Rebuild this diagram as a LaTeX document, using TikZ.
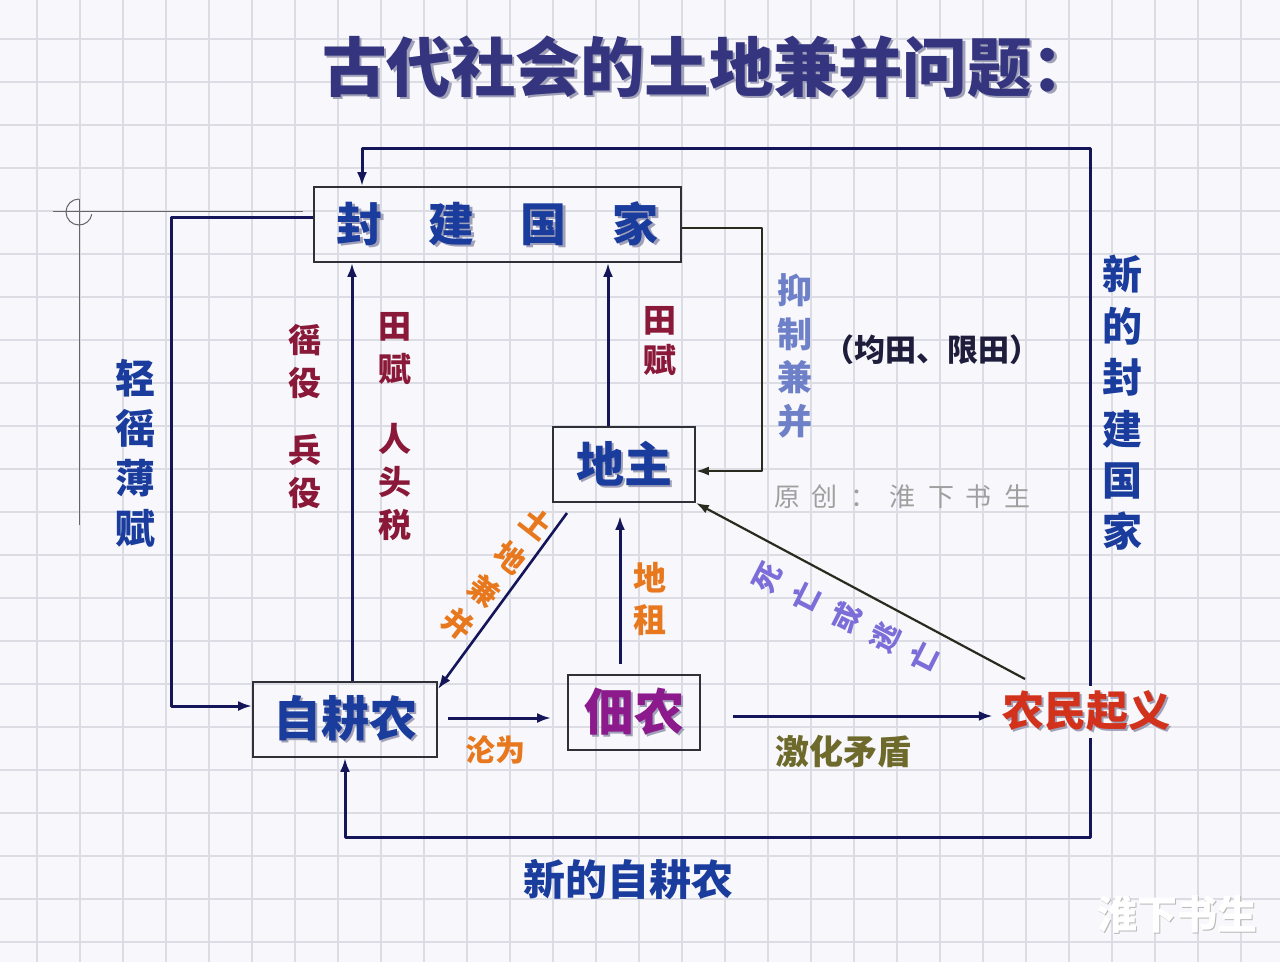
\documentclass[tikz,border=0pt]{standalone}
\usepackage{fontspec}
\newfontfamily\hei{Noto Sans CJK SC}
\usetikzlibrary{arrows.meta}
\definecolor{bg}{HTML}{F8F8FC}
\definecolor{gridc}{HTML}{DCDCE4}
\definecolor{navy}{HTML}{15155A}
\definecolor{titlec}{HTML}{35357F}
\definecolor{boxblue}{HTML}{1A3C9C}
\definecolor{wine}{HTML}{8A1838}
\definecolor{orangec}{HTML}{E8781E}
\definecolor{purplec}{HTML}{8C1A8C}
\definecolor{redc}{HTML}{D2321C}
\definecolor{lav}{HTML}{7C6ED8}
\definecolor{lightblue}{HTML}{6E80C8}
\definecolor{olive}{HTML}{6E6A2C}
\definecolor{shadowc}{HTML}{A0A0B8}
\definecolor{boxline}{HTML}{303038}
\definecolor{darkline}{HTML}{2A2A1E}
\definecolor{darktext}{HTML}{1E1E3C}
\newcommand{\shtext}[2]{\makebox[0pt][l]{\color{shadowc}\kern2.5pt\raisebox{-2.5pt}{#2}}{\color{#1}#2}}
\newcommand{\fs}[2]{\fontsize{#1}{#2}\selectfont}
\tikzset{
  box/.style={draw=boxline, line width=1.8pt, inner sep=0pt},
  conn/.style={draw=navy, line width=3pt, line join=round, -{Latex[length=14pt,width=10pt]}},
  thinconn/.style={draw=darkline, line width=2.2pt, line join=round, -{Latex[length=13pt,width=9pt]}},
  lbl/.style={inner sep=0pt, align=center},
}
\begin{document}
\begin{tikzpicture}[x=1pt,y=-1pt]
\fill[bg] (0,0) rectangle (1280,962);
\useasboundingbox (0,0) rectangle (1280,962);
% grid
\foreach \k in {0,...,29} {\draw[gridc, line width=1.1pt] ({37+43*\k},0) -- ({37+43*\k},962);}
\foreach \k in {0,...,22} {\draw[gridc, line width=1.1pt] (0,{39+43*\k}) -- (1280,{39+43*\k});}
% crosshair mark
\draw[gray!80!black, line width=1pt] (53,211) -- (303,211);
\draw[gray!80!black, line width=1pt] (79,199) -- (79,525);
\draw[gray!80!black, line width=1pt] (79,199) arc[start angle=270, end angle=10, radius=13];

% title
\node[lbl, font=\hei\bfseries\fs{64.5}{70}] (title) at (709,68) {\shtext{titlec}{古代社会的土地兼并问题：}};

% boxes
\node[box, minimum width=367pt, minimum height=75pt, font=\hei\bfseries\fs{46}{50}] (feng) at (497.5,224.5)
  {\shtext{boxblue}{封　建　国　家}};
\node[box, minimum width=142pt, minimum height=75pt, font=\hei\bfseries\fs{48}{52}] (dizhu) at (624,464.5)
  {\shtext{boxblue}{地主}};
\node[box, minimum width=184pt, minimum height=75pt, font=\hei\bfseries\fs{48}{52}] (zigeng) at (345,719.5)
  {\shtext{boxblue}{自耕农}};
\node[box, minimum width=132pt, minimum height=75pt, font=\hei\bfseries\fs{50}{54}] (diannong) at (634,712.5)
  {\shtext{purplec}{佃农}};
\node[inner sep=0pt, minimum height=52pt, font=\hei\bfseries\fs{42}{46}] (qiyi) at (1086,712)
  {\shtext{redc}{农民起义}};

% connectors
\coordinate (c1) at (1090,148); \coordinate (c2) at (362,148);
\draw[conn] (qiyi.north -| c1) -- (c1) -- (c2) -- (c2 |- feng.north);
\coordinate (c3) at (1090,837); \coordinate (c4) at (345,837);
\draw[conn] (qiyi.south -| c3) -- (c3) -- (c4) -- (c4 |- zigeng.south);
\coordinate (l1) at (171,217); \coordinate (l2) at (171,706);
\draw[conn] (feng.west |- l1) -- (l1) -- (l2) -- (l2 -| zigeng.west);
\coordinate (a1) at (352,0);
\draw[conn] (zigeng.north -| a1) -- (feng.south -| a1);
\coordinate (a2) at (608,0);
\draw[conn] (dizhu.north -| a2) -- (feng.south -| a2);
\coordinate (b1) at (762,228); \coordinate (b2) at (762,471);
\draw[thinconn] (feng.east |- b1) -- (b1) -- (b2) -- (b2 -| dizhu.east);
\coordinate (t1) at (567,513);
\draw[conn, line width=2.6pt] (t1) -- ([yshift=-8pt]zigeng.north east);
\coordinate (a3) at (620,0);
\draw[conn, shorten <=10pt, shorten >=13pt] (diannong.north -| a3) -- (dizhu.south -| a3);
\coordinate (d1) at (1025,679);
\draw[thinconn] (d1) -- (dizhu.south east);
\coordinate (e1) at (0,718);
\draw[conn, shorten <=10pt, shorten >=16pt] (zigeng.east |- e1) -- (diannong.west |- e1);
\coordinate (e2) at (0,716);
\draw[conn, shorten <=32pt, shorten >=9pt] (diannong.east |- e2) -- (qiyi.west |- e2);

% labels
\node[lbl, text=boxblue, font=\hei\bfseries\fs{40}{50}] (qingyao) at (135,453) {轻\\徭\\薄\\赋};
\node[lbl, text=wine, font=\hei\bfseries\fs{33}{43}] (yaoyi) at (305,416) {徭\\役\\[24pt]兵\\役};
\node[lbl, text=wine, font=\hei\bfseries\fs{33}{43}] (tianfu1) at (395,427) {田\\赋\\[27pt]人\\头\\税};
\node[lbl, text=wine, font=\hei\bfseries\fs{33}{40}] (tianfu2) at (660,341) {田\\赋};
\node[lbl, text=orangec, font=\hei\bfseries\fs{33}{42}] (dizu) at (650,599) {地\\租};
\node[lbl, text=lightblue, font=\hei\bfseries\fs{35}{43.5}] (yizhi) at (795,356) {抑\\制\\兼\\并};
\node[inner sep=0pt, text=darktext, font=\hei\bfseries\fs{31}{34}] (juntian) at (932,350) {（均田、限田）};
\node[lbl, text=boxblue, font=\hei\bfseries\fs{40}{51.4}] (xinfeng) at (1122,403) {新\\的\\封\\建\\国\\家};
\node[lbl, text=boxblue, font=\hei\bfseries\fs{42}{46}] (xinzi) at (628,880) {新的自耕农};
\node[lbl, text=orangec, font=\hei\bfseries\fs{30}{34}] (lunwei) at (495,750) {沦为};
\node[lbl, text=olive, font=\hei\bfseries\fs{34}{38}] (jihua) at (843,752) {激化矛盾};
% rotated labels
\node[lbl, text=orangec, rotate=-38, font=\hei\bfseries\fs{30}{42}] (tudi) at (497,574) {土\\地\\兼\\并};
\node[lbl, text=lav, rotate=63, font=\hei\bfseries\fs{29}{44}] (siwang) at (846,618) {死\\亡\\或\\逃\\亡};
% watermarks
\node[inner sep=0pt, text=gray!75, font=\hei\fs{26}{30}] (wm1) at (902,497)
  {原\hspace{12pt}创\hspace{12pt}：\hspace{14pt}淮\hspace{12pt}下\hspace{12pt}书\hspace{12pt}生};
\node[lbl, font=\hei\bfseries\fs{40}{44}] (wm2) at (1177,915) {\makebox[0pt][l]{\color{gray!55}\kern1.5pt\raisebox{-1.5pt}{淮下书生}}{\color{white}淮下书生}};
\end{tikzpicture}
\end{document}
